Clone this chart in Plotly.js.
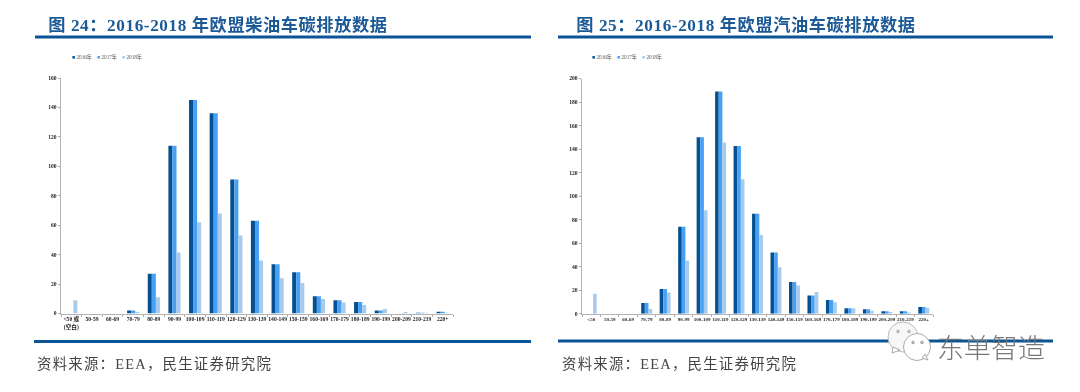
<!DOCTYPE html>
<html><head><meta charset="utf-8">
<script src="https://cdn.plot.ly/plotly-3.0.1.min.js"></script>
<style>html,body{margin:0;padding:0;background:#fff}#c{width:1080px;height:392px;filter:blur(0.45px)}
.annotation[data-index="0"] text,.annotation[data-index="1"] text{letter-spacing:0.6px}
.annotation[data-index="2"] text,.annotation[data-index="3"] text{letter-spacing:1.25px}
</style>
</head><body><div id="c"></div>
<script>
const seriesNames = ['2016年','2017年','2018年'];
const seriesColors = ['#06508f','#46a0f5','#a8cbec'];
const catsL = ['&lt;50 或<br>(空白)','50-59','60-69','70-79','80-89','90-99','100-109','110-119','120-129','130-139','140-149','150-159','160-169','170-179','180-189','190-199','200-209','210-219','220+'];
const catsR = ['&lt;50','50-59','60-69','70-79','80-89','90-99','100-109','110-119','120-129','130-139','140-149','150-159','160-169','170-179','180-189','190-199','200-209','210-219','220+'];
const diesel2016 = [0,0,0,2,27,114,145,136,91,63,33.5,28,11.7,9,7.8,2,0,0.5,1.2];
const diesel2017 = [0,0,0,2,27,114,145,136,91,63,33.5,28,11.7,9,7.8,2,0.2,0.5,1.2];
const diesel2018 = [9,0,0,1,11,41.5,62,68,53,36,24,20.7,9.9,7.4,5.8,3,1,0.5,0.5];
const petrol2016 = [0,0,0,9,21,74,150,189,142.7,85,52,27,15.5,11.7,4.6,3.7,2,2,5.7];
const petrol2017 = [0,0,0,9,21,74,150,189,142.7,85,52,27,15.5,11.7,4.6,3.7,2,2,5.7];
const petrol2018 = [17,0,0,4,18,45,88,145.6,114.4,67,39.5,24,18.5,9.7,4.6,2.5,1.5,1,5];
const titleL = '图 24：2016-2018 年欧盟柴油车碳排放数据';
const titleR = '图 25：2016-2018 年欧盟汽油车碳排放数据';
const sourceText = '资料来源：EEA，民生证券研究院';
const watermark = '东单智造';

const W=1080,H=392, px=x=>x/W, py=y=>1-y/H;
const serif='"Liberation Serif","Noto Sans CJK SC",serif';
const traces=[];
[[catsL,[diesel2016,diesel2017,diesel2018],'x','y'],[catsR,[petrol2016,petrol2017,petrol2018],'x2','y2']].forEach(([c,vals,xa,ya])=>{
  vals.forEach((v,i)=>traces.push({type:'bar',x:c,y:v,name:seriesNames[i],xaxis:xa,yaxis:ya,marker:{color:seriesColors[i],line:{width:0}},showlegend:false,hoverinfo:'x+y+name'}));
});
const xax=(d,fs)=>({domain:d,type:'category',range:[-0.5,18.5],showgrid:false,zeroline:false,showline:true,linecolor:'#b4b4b4',linewidth:1,ticks:'outside',ticklen:2,tickcolor:'#888',tickwidth:0.7,tickson:'boundaries',tickangle:0,tickfont:{family:serif,size:fs,color:'#222',weight:'bold'},automargin:false});
const yax=(d,max,dt,anc)=>({domain:d,range:[0,max],dtick:dt,anchor:anc,showgrid:false,zeroline:false,showline:true,linecolor:'#b4b4b4',linewidth:1.3,ticks:'outside',ticklen:2,tickcolor:'#888',tickwidth:0.7,tickfont:{family:serif,size:5.6,color:'#222',weight:'bold'},automargin:false});
const ann=(x,y,text,size,color,extra)=>Object.assign({xref:'paper',yref:'paper',x:px(x),y:py(y),xanchor:'left',yanchor:'middle',showarrow:false,text,font:{family:serif,size,color}},extra||{});
const legendText=()=>seriesNames.map((n,i)=>`<span style="color:${seriesColors[i]}">■</span> ${n}`);
const annotations=[
 ann(54,24.5,`<b>${titleL}</b>`,17.2,'#1b5a97'),
 ann(582,24.5,`<b>${titleR}</b>`,17.2,'#1b5a97'),
 ann(45,364,sourceText,14.4,'#444'),
 ann(570,364,sourceText,14.4,'#444'),
 ann(935,346,watermark,27,'#777',{font:{family:'"Noto Sans CJK SC",sans-serif',size:27,color:'#777',weight:300}}),
];
[70,95,120].forEach((x,i)=>annotations.push(ann(x,57,legendText()[i],5.2,'#555')));
[590,615,640].forEach((x,i)=>annotations.push(ann(x,57,legendText()[i],5.2,'#555')));
const rule=(x0,x1,y0,y1)=>({type:'rect',xref:'paper',yref:'paper',x0:px(x0),x1:px(x1),y0:py(y0),y1:py(y1),fillcolor:'#0b5596',line:{width:0}});
const circ=(cx,cy,r,fill,lc)=>({type:'circle',xref:'paper',yref:'paper',x0:px(cx-r),x1:px(cx+r),y0:py(cy+r),y1:py(cy-r),fillcolor:fill,line:{color:lc,width:1}});
const tail=(d)=>({type:'path',xref:'paper',yref:'paper',path:d,fillcolor:'#fff',line:{color:'#aaa',width:1}});
const pth=(pts)=>'M'+pts.map(p=>px(p[0])+','+py(p[1])).join('L')+'Z';
const shapes=[
 rule(35,531,35.5,38.5),rule(558,1053,35.5,38.5),
 rule(34,531,340,343),rule(558,1053,339.5,342.5),
 circ(903,337,15,'#f7f7f7','#bbb'),
 tail(pth([[893,347],[892,353],[900,350]])),
 circ(917,347,13.5,'#fff','#aaa'),
 tail(pth([[922,358],[928,360],[925,354]])),
 circ(898,331.5,1.3,'#ccc','#aaa'),circ(909,331.5,1.3,'#ccc','#aaa'),
 circ(913,342.5,1.3,'#ccc','#999'),circ(922,342.5,1.3,'#ccc','#999'),
];
const layout={width:W,height:H,margin:{l:0,r:0,t:0,b:0},paper_bgcolor:'#fff',plot_bgcolor:'rgba(0,0,0,0)',barmode:'group',bargap:0.41,bargroupgap:0,showlegend:false,
 xaxis:Object.assign(xax([px(61),px(453)],5.6),{anchor:'y'}),yaxis:yax([py(313.5),py(78)],160,20,'x'),
 xaxis2:Object.assign(xax([px(582),px(933)],5),{anchor:'y2'}),yaxis2:yax([py(313.7),py(78.5)],200,20,'x2'),
 annotations,shapes};
Plotly.newPlot('c',traces,layout,{displayModeBar:false,staticPlot:true});
</script></body></html>
